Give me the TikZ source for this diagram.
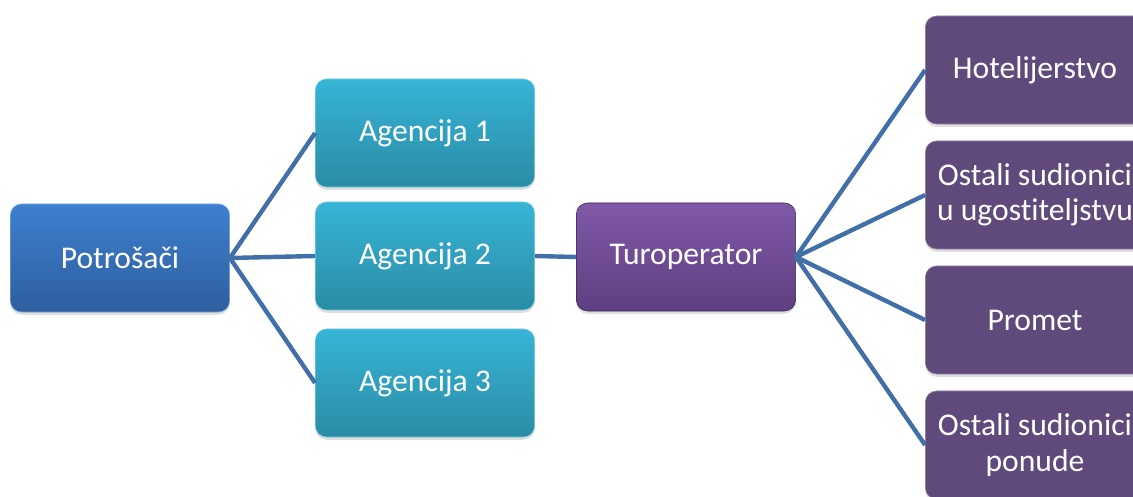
\documentclass[tikz,border=0pt]{standalone}
\usepackage{fontspec}
\setmainfont{Carlito}[Ligatures={NoCommon,NoContextual}]
\usetikzlibrary{shadows}
\definecolor{bleuhaut}{HTML}{3D80CF}
\definecolor{bleubas}{HTML}{2E5E9E}
\definecolor{cyanhaut}{HTML}{37B4D7}
\definecolor{cyanbas}{HTML}{2A8CA5}
\definecolor{violethaut}{HTML}{8059A8}
\definecolor{violetbas}{HTML}{5E3F80}
\definecolor{violetfonce}{HTML}{604A7B}
\definecolor{trait}{HTML}{4170A8}
\begin{document}
\begin{tikzpicture}[x=0.025cm,y=-0.025cm]
% Styles
\tikzstyle{boite}=[rectangle,rounded corners=0.28cm,minimum width=5.48cm,minimum height=2.7cm,
  text=white,align=center,font=\fontsize{22.5}{25}\selectfont,
  drop shadow={opacity=0.25,shadow xshift=0pt,shadow yshift=-0.07cm}]
\tikzstyle{client}=[boite,top color=bleuhaut,bottom color=bleubas,draw=bleuhaut!70!white,thin]
\tikzstyle{agence}=[boite,top color=cyanhaut,bottom color=cyanbas,draw=cyanhaut!70!white,thin]
\tikzstyle{organisateur}=[boite,top color=violethaut,bottom color=violetbas,draw=violetbas!60!black,thin]
\tikzstyle{prestataire}=[boite,fill=violetfonce,draw=violetfonce!70!white,thin]
\tikzstyle{lien}=[trait,line width=0.11cm]
% Cadre
\useasboundingbox (0,0) rectangle (1133,497);
% Colonne 1 : potrosaci
\node[client] (potrosaci) at (120,258) {Potrošači};
% Colonne 2 : agencije
\node[agence] (ag1) at (425,133) {Agencija 1};
\node[agence] (ag2) at (425,256) {Agencija 2};
\node[agence] (ag3) at (425,383) {Agencija 3};
% Colonne 3 : turoperator
\node[organisateur] (turop) at (686,257) {Turoperator};
% Colonne 4 : sudionici
\node[prestataire] (hotel) at (1035,70) {Hotelijerstvo};
\node[prestataire] (ugost) at (1035,195) {Ostali sudionici\\u ugostiteljstvu};
\node[prestataire] (promet) at (1035,320) {Promet};
\node[prestataire] (ponuda) at (1035,445) {Ostali sudionici\\ponude};
% Liaisons
\draw[lien] (potrosaci.east) -- (ag1.west);
\draw[lien] (potrosaci.east) -- (ag2.west);
\draw[lien] (potrosaci.east) -- (ag3.west);
\draw[lien] (ag2.east) -- (turop.west);
\draw[lien] (turop.east) -- (hotel.west);
\draw[lien] (turop.east) -- (ugost.west);
\draw[lien] (turop.east) -- (promet.west);
\draw[lien] (turop.east) -- (ponuda.west);
\end{tikzpicture}
\end{document}
